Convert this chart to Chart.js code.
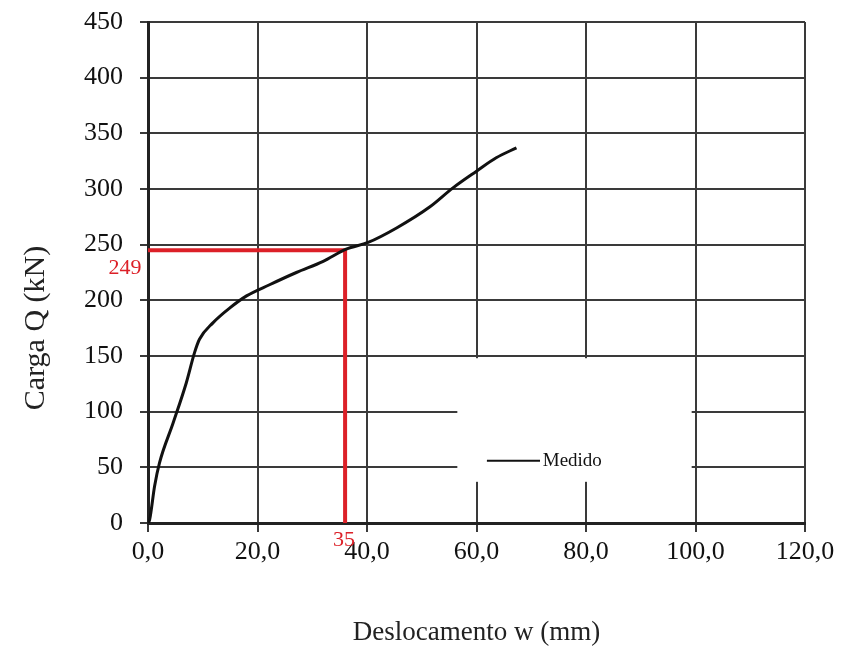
<!DOCTYPE html>
<html>
<head>
<meta charset="utf-8">
<script src="https://cdn.jsdelivr.net/npm/chart.js@4/dist/chart.umd.min.js"></script>
<style>
  html, body { margin:0; padding:0; background:#fff; }
  #wrap { width:848px; height:654px; }
</style>
</head>
<body>
<div id="wrap"><canvas id="loadChart" width="848" height="654"></canvas></div>
<script>
// load-displacement curve, values
const dispW = [0, 0.3, 1.2, 2.1, 4.6, 7.0, 8.5, 9.4, 11.9, 14.9, 18.0, 22.2, 27.1, 32.0, 36.2, 40.2, 45.4, 51.5, 55.7, 60.0, 63.6, 67.3];
const loadQ = [0, 3, 33, 54, 90, 126, 153, 165, 180, 193, 204, 214, 225, 235, 246, 252, 265, 284, 301, 316, 328, 337];

// red reading lines (x = 35, Q = 249)
const markW = [0, 36, 36];
const markQ = [245, 245, 0];
const markLabels = ['249', '35'];

const xTicks = [0, 20, 40, 60, 80, 100, 120];
const yTicks = [0, 50, 100, 150, 200, 250, 300, 350, 400, 450];

const seriesName = 'Medido';
const xTitle = 'Deslocamento w (mm)';
const yTitle = 'Carga Q (kN)';

const serif = '"Liberation Serif", "Times New Roman", serif';
const red = '#dc2028';

const annotations = {
  id: 'annotations',
  beforeDatasetsDraw(chart) {
    const ctx = chart.ctx;
    const x = chart.scales.x, y = chart.scales.y;
    // legend box sits on top of the grid
    const bx = x.getPixelForValue(56.5), bw = x.getPixelForValue(99.3) - bx;
    const by = y.getPixelForValue(148), bh = y.getPixelForValue(37) - by;
    ctx.save();
    ctx.fillStyle = '#fff';
    ctx.fillRect(bx, by, bw, bh);
    const ly = y.getPixelForValue(56);
    ctx.strokeStyle = '#111';
    ctx.lineWidth = 2;
    ctx.beginPath();
    ctx.moveTo(x.getPixelForValue(61.9), ly);
    ctx.lineTo(x.getPixelForValue(71.6), ly);
    ctx.stroke();
    ctx.fillStyle = '#111';
    ctx.font = '19px ' + serif;
    ctx.textBaseline = 'middle';
    ctx.textAlign = 'left';
    ctx.fillText(seriesName, x.getPixelForValue(72.1), ly);
    ctx.restore();
  },
  afterDraw(chart) {
    const ctx = chart.ctx;
    const x = chart.scales.x, y = chart.scales.y;
    ctx.save();
    ctx.fillStyle = red;
    ctx.font = '22px ' + serif;
    ctx.textAlign = 'center';
    ctx.textBaseline = 'middle';
    ctx.fillText(markLabels[0], x.left - 23, y.getPixelForValue(markQ[0]) + 18);
    ctx.fillText(markLabels[1], x.getPixelForValue(markW[1]) - 1, y.bottom + 17);
    // y axis title, placed lower than the axis centre as in the original
    ctx.fillStyle = '#222';
    ctx.font = '30px ' + serif;
    ctx.translate(36, 328);
    ctx.rotate(-Math.PI / 2);
    ctx.fillText(yTitle, 0, 0);
    ctx.restore();
  }
};

const ctx = document.getElementById('loadChart').getContext('2d');
new Chart(ctx, {
  type: 'line',
  data: {
    datasets: [
      {
        label: seriesName,
        data: dispW.map((w, i) => ({x: w, y: loadQ[i]})),
        borderColor: '#111', borderWidth: 3, pointRadius: 0,
        cubicInterpolationMode: 'monotone', fill: false, order: 1
      },
      {
        label: 'leitura',
        data: markW.map((w, i) => ({x: w, y: markQ[i]})),
        borderColor: red, borderWidth: 4, pointRadius: 0, tension: 0, fill: false, order: 2
      }
    ]
  },
  options: {
    responsive: false,
    animation: false,
    layout: {padding: {left: 0, right: 43, top: 22, bottom: 0}},
    plugins: {legend: {display: false}, tooltip: {enabled: false}},
    scales: {
      x: {
        type: 'linear', min: 0, max: 120,
        afterBuildTicks: s => { s.ticks = xTicks.map(v => ({value: v})); },
        afterFit: s => { s.height = 131; },
        grid: {color: '#3a3a3a', lineWidth: 2, tickLength: 9},
        border: {color: '#222', width: 3},
        ticks: {
          color: '#111', padding: 5, maxRotation: 0,
          font: {family: serif, size: 26},
          callback: v => v.toFixed(1).replace('.', ',')
        },
        title: {display: true, text: xTitle, color: '#222', font: {family: serif, size: 27}, padding: {top: 0, bottom: 5}}
      },
      y: {
        type: 'linear', min: 0, max: 450,
        afterBuildTicks: s => { s.ticks = yTicks.map(v => ({value: v})); },
        afterFit: s => { s.width = 148; s.paddingTop = 0; s.paddingBottom = 0; },
        grid: {color: '#3a3a3a', lineWidth: 2, tickLength: 8},
        border: {color: '#222', width: 3},
        ticks: {color: '#111', padding: 17, font: {family: serif, size: 26}}
      }
    }
  },
  plugins: [annotations]
});
</script>
</body>
</html>
